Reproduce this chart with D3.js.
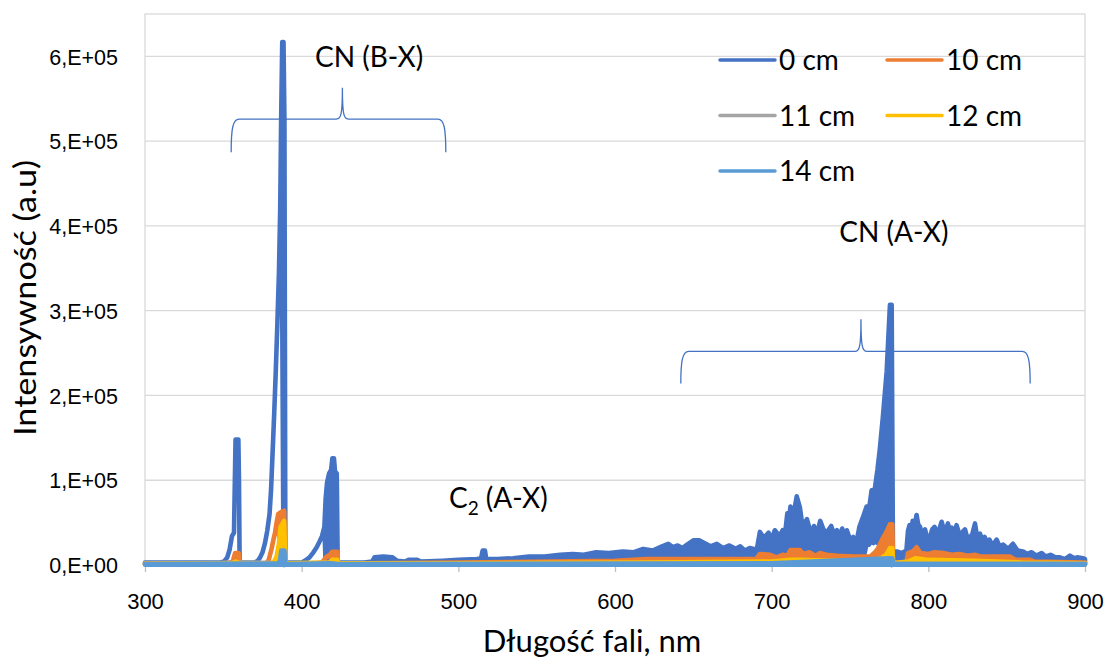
<!DOCTYPE html>
<meta charset="utf-8">
<script src="https://cdnjs.cloudflare.com/ajax/libs/d3/7.8.5/d3.min.js"></script>
<style>
body { margin: 0; background: #fff; }
svg { font-family: Lato, "Open Sans", sans-serif; background: #fff; }
.grid line { stroke: #d9d9d9; stroke-width: 1.3; }
.frame { fill: none; stroke: #d9d9d9; stroke-width: 1.3; }
.axis text { fill: #000; }
.axis .domain, .axis .tick line { stroke: #bfbfbf; stroke-width: 1.3; }
.series { stroke-width: 4.6; stroke-linejoin: round; stroke-linecap: round; }
.brace { fill: none; stroke: #4472C4; stroke-width: 1.3; }
.note { font-size: 28px; fill: #000; }
</style>
<svg id="chart" width="1109" height="664"></svg>
<script>

// axes
var xTicks = [300, 400, 500, 600, 700, 800, 900]
var yTicks = [0, 100, 200, 300, 400, 500, 600]          // 10^3 a.u.
var yTickLabels = ["0,E+00", "1,E+05", "2,E+05", "3,E+05", "4,E+05", "5,E+05", "6,E+05"]

var seriesNames = ["0 cm", "10 cm", "11 cm", "12 cm", "14 cm"]
var seriesColors = ["#4472C4", "#ED7D31", "#A5A5A5", "#FFC000", "#5B9BD5"]

// spectra: [wavelength nm, lower edge, upper edge] in 10^3 a.u.
// (dense spectra are drawn as the band they fill)
var cm0 = [
  [300,2,3],[330,2,3],[348,2,3],[350.5,4,4],[352.5,9,9],[354,18,18],[355.5,34,34],[356.8,38,38],
  [357.8,148,148],[359.6,148,148],[360,97,97],[360.4,3,3],[362,2,3],[370,2,3],
  [372,5,5],[373.5,9,9],[375,15,15],[376.6,26,26],[378,40,40],[379.5,60,60],[380.5,90,90],
  [381.5,135,135],[382.5,180,180],[383.5,230,230],[384.5,285,285],[385.5,345,345],[386.3,420,420],
  [386.9,430,525],[387.6,300,617],[388.4,0,617],[389,0,525],[389.6,2,3],[398,2,3],
  [400,3,3],[402,5,5],[405,9,9],[407.5,15,15],[409.6,21,21],[411.5,28,28],[413,34,34],[414.5,45,45],
  [415.3,2,78],[416.2,2,97],[417.5,2,108],[418.8,2,112],[419.6,2,126],[420.6,2,126],[421.3,2,110],
  [422.4,2,108],[423,2,3],[440,2,3],[445,2,4],[446.5,2,9],[452,2,10],[458,2,9],[461,2,5],
  [466,2,4],[468,2,6],[474,2,6],[476,2,4],[490,2,5],[500,2,6],[512,2,7],[514.5,2,8],
  [515.5,2,17],[517,2,17],[517.8,2,7],[525,2,7],[535,2,8],[545,2,10],[555,2,10],[565,2,12],
  [573,2,13],[580,2,12],[588,2,15],[596,2,14],[605,2,16],[612,2,15],[618,2,19],[624,2,17],
  [630,2,22],[634,2,25],[637,2,21],[640,2,23],[643,2,20],[646,2,24],[650,2,29],[654,2,29],
  [657,2,26],[661,2,22],[665,2,25],[669,2,20],[673,2,23],[677,2,19],[680,2,22],[683,2,17],
  [686,2,20],[690.5,2,18],[692.5,2,39],[695,2,32],[698,2,38],[700,2,30],[702,2,41],[705,2,34],
  [707,2,41],[708.5,2,36],[710,2,61],[711,2,52],[712,2,69],[714,2,60],[716,2,81],[718,2,68],
  [719,2,55],[720,2,44],[721,2,50],[722.5,2,54],[724,2,44],[725.7,2,38],[727,2,46],[729,2,37],
  [731,2,52],[733,2,42],[735,2,38],[738,2,46],[740,2,36],[741.7,2,41],[743.5,2,33],[745,2,43],
  [747,2,33],[748,2,41],[750,2,30],[752,2,33],[754,2,26],[756,2,45],[758,3,55],[760.6,25,69],
  [762,24,64],[763.8,28,88],[765,26,84],[766,28,92],[767.5,26,112],[769,30,136],[771,32,175],
  [773.4,33,228],[775.5,33,307],[776.6,0,307],[777.4,2,16],[780,2,16],[783,2,14],[786,2,17],
  [787,2,40],[788,2,47],[789,2,38],[790,2,52],[791,2,44],[792.5,2,59],[793.5,2,48],[794.7,2,45],
  [796,2,36],[797.9,2,42],[799,2,33],[801,2,33],[802.5,2,42],[804,2,45],[806,2,36],[808.5,2,51],
  [810.6,2,37],[812.5,2,49],[814,2,38],[815,2,44],[816.5,2,34],[818,2,47],[819.5,2,38],[821,2,37],
  [823.4,2,42],[825,2,31],[826.6,2,33],[828,2,36],[829.8,2,49],[831,2,34],[833,2,37],[834.5,2,28],
  [836,2,33],[837.5,2,26],[839,2,30],[841,2,23],[843.6,2,30],[845.5,2,22],[847.8,2,24],[851,2,19],
  [854,2,25],[857,2,17],[860.5,2,16],[863,2,13],[866,2,15],[869,2,11],[872.3,2,14],[875,2,10],
  [878,2,12],[881,2,9],[884,2,9],[887,2,7],[890.4,2,11],[893,2,8],[895,2,9],[898.7,2,8],[900,2,7]
]
var cm10 = [
  [300,1,2],[350,1,2],[354,2,3],[356,4,4],[357.5,1,14],[359.8,1,14],[360.3,2,2],[375,1,2],
  [377.5,2,2],[379,6,6],[380.9,20,20],[382,30,30],[383,38,38],[384,50,50],[385,60,60],
  [386.5,1,62],[388.8,1,64],[389.5,1,2],[410,1,2],[413,3,3],[416,10,10],[418,12,12],
  [419.5,1,15.7],[422.8,1,15.7],[423.2,1,2],[440,1,2],[500,1,3],[560,1,4],[600,1,5],
  [620,1,7],[650,1,7],[690,1,7],[692.5,1,13],[699,1,12],[703,1,9],[707,1,12],[710,1,11],
  [712,1,17.7],[718,1,17.7],[720,1,13],[724,1,15],[728,1,11],[731,1,14],[735,1,12],[742,1,11],
  [752,1,10],[763,1,10],[766,1,15],[768,1,20],[769.5,1,26],[771,1,32],[773,1,38],[775.5,1,48],
  [777,1,48],[777.5,1,3],[786,1,3],[787,1,14],[790,1,16],[792.5,1,21],[795,1,14],[800,1,13],
  [804,1,15],[810,1,14],[815,1,12],[820,1,13],[825,1,11],[830,1,12],[833,1,10],[852,1,10],
  [856,1,6],[865,1,6],[868,1,4],[900,1,3]
]
var cm11 = [
  [300,1,1.5],[385,1,3],[387,1,10],[389,1,10],[389.5,1,1.5],[419,1,3],[423,1,1.5],
  [700,1,2.5],[775,1,5],[777,1,5],[777.5,1,1.5],[900,1,1.5]
]
var cm12 = [
  [300,1,1.5],[355,1,2],[358,1,4],[360,1,2],[380,1,2],[382,3,3],[384,10,10],[385.5,25,25],
  [386.5,1,45],[388.8,1,52],[389.5,1,2],[418,1,3],[419.5,1,6],[422.8,1,6],[423.2,1,2],
  [500,1,2],[620,1,3],[700,1,4],[712,1,6],[718,1,6],[740,1,5],[765,1,5],[770,1,8],[773,1,12],
  [775.5,1,20],[777,1,20],[777.5,1,2],[787,1,4],[792,1,8],[800,1,6],[830,1,5],[860,1,3],[900,1,2]
]
var cm14 = [
  [300,0.5,1],[386,0.5,2],[387,0.5,17],[389,0.5,17],[389.5,0.5,1],[419,0.5,2],[423,0.5,1],
  [700,0.5,2],[775,0.5,8],[777,0.5,8],[777.5,0.5,1.5],[900,0.5,1.5]
]
var seriesData = [cm0, cm10, cm11, cm12, cm14]

// annotations: braces [from nm, to nm, tip nm, bar value, end value, tip value]
var braces = [
  [355, 492, 426, 526, 487, 563],
  [642, 865, 757, 252, 214, 290]
]
var notes = [
  {text: "CN (B-X)", nm: 443, v: 588, anchor: "middle"},
  {text: "CN (A-X)", nm: 778, v: 381, anchor: "middle"}
]
var c2Note = {nm: 494, v: 67}

var svg = d3.select('#chart')
var x = d3.scaleLinear().domain([300, 900]).range([145, 1085])
var y = d3.scaleLinear().domain([0, 650]).range([565, 14])

// grid + frame
svg.append('g').attr('class', 'grid')
  .selectAll('line').data(yTicks).enter().append('line')
  .attr('x1', x(300)).attr('x2', x(900))
  .attr('y1', function(d) { return y(d) }).attr('y2', function(d) { return y(d) })

svg.append('rect').attr('class', 'frame')
  .attr('x', x(300)).attr('y', y(650))
  .attr('width', x(900) - x(300)).attr('height', y(0) - y(650))

// x axis
var gx = svg.append('g').attr('class', 'axis')
  .attr('transform', 'translate(0,' + y(0) + ')')
  .call(d3.axisBottom(x).tickValues(xTicks).tickSize(7).tickSizeOuter(0).tickFormat(d3.format('d')))
gx.selectAll('text').attr('y', 44).attr('dy', null).style('font-size', '22px')

// y axis labels only
var gy = svg.append('g').attr('class', 'axis')
  .attr('transform', 'translate(' + x(300) + ',0)')
  .call(d3.axisLeft(y).tickValues(yTicks).tickSize(0).tickFormat(function(d, i) { return yTickLabels[i] }))
gy.select('.domain').remove()
gy.selectAll('text').attr('x', -27).attr('dy', '0.36em').style('font-size', '21.5px')

// series
var area = d3.area()
  .x(function(d) { return x(d[0]) })
  .y0(function(d) { return y(d[1]) })
  .y1(function(d) { return y(d[2]) })

svg.append('g').selectAll('path')
  .data(seriesData).enter().append('path')
  .attr('class', 'series')
  .attr('d', area)
  .attr('fill', function(d, i) { return seriesColors[i] })
  .attr('stroke', function(d, i) { return seriesColors[i] })

// braces
function bracePath(b) {
  var x0 = x(b[0]), x1 = x(b[1]), xt = x(b[2])
  var yb = y(b[3]), ye = y(b[4]), yt = y(b[5])
  return 'M' + x0 + ',' + ye +
    'C' + x0 + ',' + (yb + 10) + ' ' + (x0 + 1.5) + ',' + yb + ' ' + (x0 + 8) + ',' + yb +
    'L' + (xt - 6) + ',' + yb +
    'C' + (xt - 1.5) + ',' + yb + ' ' + xt + ',' + (yb - 4) + ' ' + xt + ',' + yt +
    'C' + xt + ',' + (yb - 4) + ' ' + (xt + 1.5) + ',' + yb + ' ' + (xt + 6) + ',' + yb +
    'L' + (x1 - 8) + ',' + yb +
    'C' + (x1 - 1.5) + ',' + yb + ' ' + x1 + ',' + (yb + 10) + ' ' + x1 + ',' + ye
}
svg.append('g').selectAll('path')
  .data(braces).enter().append('path')
  .attr('class', 'brace')
  .attr('d', bracePath)

svg.append('g').selectAll('text')
  .data(notes).enter().append('text')
  .attr('class', 'note')
  .attr('x', function(d) { return x(d.nm) })
  .attr('y', function(d) { return y(d.v) })
  .attr('text-anchor', function(d) { return d.anchor })
  .text(function(d) { return d.text })

var c2 = svg.append('text').attr('class', 'note')
  .attr('x', x(c2Note.nm)).attr('y', y(c2Note.v))
c2.append('tspan').text('C')
c2.append('tspan').attr('dy', 7).style('font-size', '19px').text('2')
c2.append('tspan').attr('dy', -7).text(' (A-X)')

// legend
var legend = svg.append('g').selectAll('g')
  .data(seriesNames).enter().append('g')
  .attr('transform', function(d, i) {
    return 'translate(' + (i % 2 ? 887 : 720) + ',' + (60 + Math.floor(i / 2) * 55.5) + ')'
  })
legend.append('line')
  .attr('x1', 0).attr('x2', 55)
  .attr('stroke', function(d, i) { return seriesColors[i] })
  .attr('stroke-width', 3.5).attr('stroke-linecap', 'round')
legend.append('text')
  .attr('x', 59).attr('y', 10)
  .style('font-size', '28px')
  .text(function(d) { return d })

// axis titles
svg.append('text')
  .attr('x', 592).attr('y', 652)
  .attr('text-anchor', 'middle')
  .style('font-size', '31px')
  .text('Długość fali, nm')

svg.append('text')
  .attr('transform', 'translate(36,298) rotate(-90)')
  .attr('text-anchor', 'middle')
  .attr('textLength', 276).attr('lengthAdjust', 'spacingAndGlyphs')
  .style('font-size', '31px')
  .text('Intensywność (a.u)')

</script>
